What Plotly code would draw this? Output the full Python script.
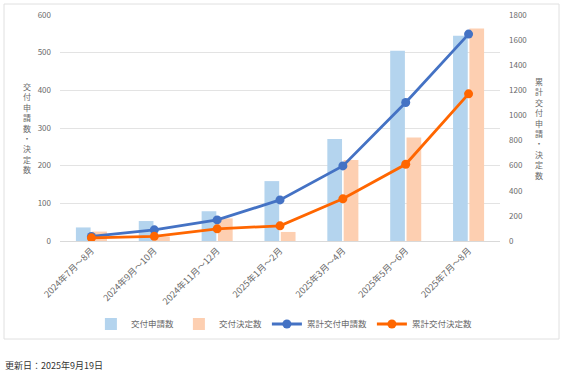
import plotly.graph_objects as go

categories = ["2024年7月～8月", "2024年9月～10月", "2024年11月～12月", "2025年1月～2月",
              "2025年3月～4月", "2025年5月～6月", "2025年7月～8月"]
applications = [36, 53, 79, 159, 271, 505, 545]
decisions = [25, 12, 60, 24, 215, 275, 564]
cum_applications = [36, 89, 168, 327, 598, 1103, 1648]
cum_decisions = [25, 37, 97, 121, 336, 611, 1172]

FONT = "Noto Sans CJK JP"
GRAY = "#6a6a6a"

fig = go.Figure()
fig.add_trace(go.Bar(x=categories, y=applications, name="交付申請数",
                     marker=dict(color="#b4d4ee", line=dict(width=0))))
fig.add_trace(go.Bar(x=categories, y=decisions, name="交付決定数",
                     marker=dict(color="#fdcfb1", line=dict(width=0))))
fig.add_trace(go.Scatter(x=categories, y=cum_applications, name="累計交付申請数", yaxis="y2",
                         mode="lines+markers", line=dict(color="#4472c4", width=2.8),
                         marker=dict(size=9, color="#4472c4")))
fig.add_trace(go.Scatter(x=categories, y=cum_decisions, name="累計交付決定数", yaxis="y2",
                         mode="lines+markers", line=dict(color="#ff6600", width=2.8),
                         marker=dict(size=9, color="#ff6600")))

PL, PR, PT, PB = 60, 500, 15, 241  # plot area in pixels

def px_x(px):
    return (px - PL) / (PR - PL)

def px_y(py):
    return (PB - py) / (PB - PT)

fig.update_layout(
    width=567, height=374,
    margin=dict(l=PL, r=567 - PR, t=PT, b=374 - PB, autoexpand=False),
    paper_bgcolor="white", plot_bgcolor="white",
    font=dict(family=FONT, size=9, color=GRAY),
    barmode="group", bargap=0.48, bargroupgap=0.1,
    showlegend=True,
    legend=dict(orientation="h", x=0.51, xanchor="center", y=px_y(324), yanchor="middle",
                font=dict(size=8.5, color=GRAY), itemwidth=30, tracegroupgap=0,
                bgcolor="rgba(0,0,0,0)"),
    xaxis=dict(tickangle=-45, tickfont=dict(size=9, color=GRAY), showgrid=False,
               showline=True, linecolor="#d9d9d9", linewidth=1, ticks=""),
    yaxis=dict(range=[0, 600], dtick=100, showgrid=True, gridcolor="#e3e3e3", gridwidth=1,
               zeroline=False, tickfont=dict(size=8, color=GRAY), ticks="", ticklabelstandoff=8),
    yaxis2=dict(range=[0, 1800], dtick=200, overlaying="y", side="right", showgrid=False,
                zeroline=False, tickfont=dict(size=8, color=GRAY), ticks="", ticklabelstandoff=8),
    shapes=[dict(type="rect", xref="paper", yref="paper",
                 x0=px_x(4), x1=px_x(559), y0=px_y(339), y1=px_y(4),
                 line=dict(color="#e0e0e0", width=1), layer="below")],
    annotations=[
        dict(text="<br>".join("交付申請数・決定数"), xref="paper", yref="paper",
             x=px_x(27), y=px_y(128), xanchor="center", yanchor="middle", showarrow=False,
             font=dict(size=8, color=GRAY)),
        dict(text="<br>".join("累計交付申請・決定数"), xref="paper", yref="paper",
             x=px_x(539), y=px_y(128), xanchor="center", yanchor="middle", showarrow=False,
             font=dict(size=8, color=GRAY)),
        dict(text="更新日：2025年9月19日", xref="paper", yref="paper",
             x=px_x(3), y=px_y(365), xanchor="left", yanchor="middle", showarrow=False,
             font=dict(size=9, color="#333333")),
    ],
)

fig.write_html("out.html", config={"displayModeBar": False},
               post_script="document.body.style.margin='0';")
